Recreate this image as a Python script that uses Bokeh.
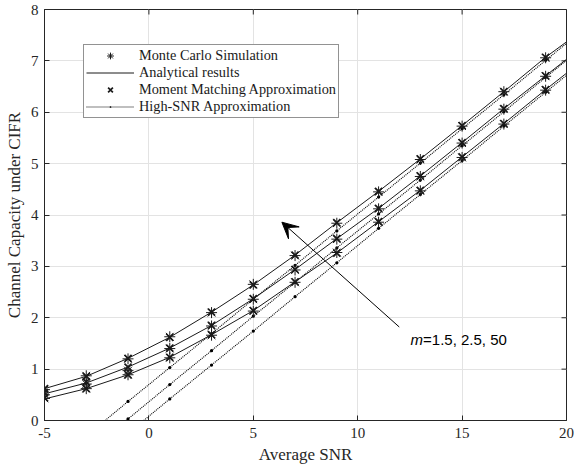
import math
from bokeh.plotting import figure
from bokeh.models import (Range1d, Legend, LegendItem, Arrow, VeeHead,
                          Label, FixedTicker)
from bokeh.embed import file_html
from bokeh.resources import INLINE

# ---------------- data ----------------
snr_pts = [-5, -3, -1, 1, 3, 5, 7, 9, 11, 13, 15, 17, 19]

# analytical curves (m = 50, 2.5, 1.5), line continues to SNR = 20
ana_m50 = [0.62, 0.86, 1.21, 1.62, 2.11, 2.64, 3.22, 3.85, 4.46, 5.09, 5.74, 6.40, 7.07]
ana_m25 = [0.52, 0.73, 1.04, 1.41, 1.85, 2.37, 2.94, 3.54, 4.13, 4.76, 5.41, 6.07, 6.71]
ana_m15 = [0.42, 0.62, 0.89, 1.23, 1.67, 2.14, 2.70, 3.26, 3.87, 4.48, 5.13, 5.78, 6.44]
ana_end_snr = 20
ana_end = [7.37, 7.03, 6.76]

# Monte Carlo simulation
mc_m50 = [0.60, 0.87, 1.20, 1.63, 2.10, 2.65, 3.21, 3.84, 4.45, 5.08, 5.73, 6.40, 7.06]
mc_m25 = [0.50, 0.71, 0.97, 1.40, 1.84, 2.36, 2.93, 3.53, 4.12, 4.75, 5.40, 6.06, 6.70]
mc_m15 = [0.43, 0.62, 0.89, 1.22, 1.66, 2.13, 2.69, 3.27, 3.86, 4.47, 5.12, 5.77, 6.43]

# Moment matching approximation
mm_m50 = [0.62, 0.86, 1.21, 1.62, 2.11, 2.64, 3.22, 3.85, 4.46, 5.09, 5.74, 6.40, 7.07]
mm_m25 = [0.54, 0.75, 1.04, 1.41, 1.85, 2.37, 2.94, 3.54, 4.13, 4.76, 5.41, 6.07, 6.71]
mm_m15 = [0.44, 0.62, 0.89, 1.23, 1.67, 2.14, 2.70, 3.26, 3.87, 4.48, 5.13, 5.78, 6.44]

# High-SNR approximation (straight lines starting at the zero crossing, ending at 20)
hs_x_m50 = [-2.1, -1, 1, 3, 5, 7, 9, 11, 13, 15, 17, 19, 20]
hs_y_m50 = [0.0, 0.37, 1.03, 1.69, 2.36, 3.02, 3.69, 4.35, 5.01, 5.68, 6.34, 7.01, 7.34]
hs_x_m25 = [-1.1, -1, 1, 3, 5, 7, 9, 11, 13, 15, 17, 19, 20]
hs_y_m25 = [0.0, 0.03, 0.70, 1.36, 2.03, 2.69, 3.36, 4.02, 4.68, 5.35, 6.01, 6.68, 7.01]
hs_x_m15 = [-0.25, 1, 3, 5, 7, 9, 11, 13, 15, 17, 19, 20]
hs_y_m15 = [0.0, 0.42, 1.08, 1.74, 2.41, 3.07, 3.74, 4.40, 5.06, 5.73, 6.39, 6.72]

x_ticks = [-5, 0, 5, 10, 15, 20]
y_ticks = [0, 1, 2, 3, 4, 5, 6, 7, 8]

legend_labels = ["Monte Carlo Simulation", "Analytical results",
                 "Moment Matching Approximation", "High-SNR Approximation"]
x_label = "Average SNR"
y_label = "Channel Capacity under CIFR"

# ---------------- figure ----------------
SERIF = "Liberation Serif"
INK = "#1a1a1a"
p = figure(width=574, height=472, output_backend="svg", toolbar_location=None,
           x_range=Range1d(x_ticks[0], x_ticks[-1]), y_range=Range1d(y_ticks[0], y_ticks[-1]),
           min_border_left=44, min_border_right=8, min_border_top=9, min_border_bottom=52)
p.background_fill_color = "white"
p.border_fill_color = "white"
p.outline_line_color = "#262626"
p.outline_line_width = 1
p.outline_line_alpha = 1

for ax in (p.xaxis[0], p.yaxis[0]):
    ax.major_tick_in = 5
    ax.major_tick_out = 0
    ax.minor_tick_in = 0
    ax.minor_tick_out = 0
    ax.axis_line_color = "#262626"
    ax.major_tick_line_color = "#262626"
    ax.major_label_text_font = SERIF
    ax.major_label_text_font_size = "15px"
    ax.major_label_text_color = "#262626"
    ax.axis_label_text_font = SERIF
    ax.axis_label_text_font_size = "17px"
    ax.axis_label_text_font_style = "normal"
    ax.axis_label_text_color = "#262626"

p.xaxis[0].ticker = FixedTicker(ticks=x_ticks)
p.yaxis[0].ticker = FixedTicker(ticks=y_ticks)
p.xaxis[0].major_label_overrides = {t: str(t) for t in x_ticks}
p.yaxis[0].major_label_overrides = {t: str(t) for t in y_ticks}
p.xaxis[0].axis_label = x_label
p.yaxis[0].axis_label = y_label
p.xaxis[0].major_label_standoff = 7
p.xaxis[0].axis_label_standoff = 4
p.yaxis[0].major_label_standoff = 6
p.yaxis[0].axis_label_standoff = 4

p.xgrid.ticker = FixedTicker(ticks=x_ticks)
p.ygrid.ticker = FixedTicker(ticks=y_ticks)
p.grid.grid_line_color = "#e3e3e3"
p.grid.grid_line_width = 1

# mirrored inward ticks on the top and right edges of the box (clipped to frame)
p.scatter(x_ticks, [y_ticks[-1]] * len(x_ticks), marker="dash", angle=math.pi / 2,
          size=10, line_color="#262626", line_width=1)
p.scatter([x_ticks[-1]] * len(y_ticks), y_ticks, marker="dash",
          size=10, line_color="#262626", line_width=1)

# ---------------- series ----------------
ana_sets = [ana_m50, ana_m25, ana_m15]
mc_sets = [mc_m50, mc_m25, mc_m15]
mm_sets = [mm_m50, mm_m25, mm_m15]
hs_sets = [(hs_x_m50, hs_y_m50), (hs_x_m25, hs_y_m25), (hs_x_m15, hs_y_m15)]

r_line = r_mc = r_mm = r_hs = r_hsdot = None
for i in range(3):
    hx, hy = hs_sets[i]
    rl = p.line(hx, hy, line_color="black", line_width=1.1, line_dash="1 1")
    rd = p.scatter(hx[1:-1], hy[1:-1], marker="dot", size=13,
                   fill_color="black", line_color="black")
    ra = p.line(snr_pts + [ana_end_snr], ana_sets[i] + [ana_end[i]],
                line_color=INK, line_width=1)
    rm = p.scatter(snr_pts, mc_sets[i], marker="asterisk", size=11,
                   line_color=INK, line_width=1)
    rx = p.scatter(snr_pts, mm_sets[i], marker="x", size=10,
                   line_color=INK, line_width=1.7)
    if i == 0:
        r_line, r_mc, r_mm, r_hs, r_hsdot = ra, rm, rx, rl, rd

legend = Legend(items=[
    LegendItem(label=legend_labels[0], renderers=[r_mc]),
    LegendItem(label=legend_labels[1], renderers=[r_line]),
    LegendItem(label=legend_labels[2], renderers=[r_mm]),
    LegendItem(label=legend_labels[3], renderers=[r_hs, r_hsdot]),
], location=(39, 302))
legend.label_text_font = SERIF
legend.label_text_font_size = "14.3px"
legend.label_text_color = INK
legend.glyph_width = 48
legend.glyph_height = 17
legend.label_height = 17
legend.spacing = 0
legend.padding = 2
legend.margin = 0
legend.label_standoff = 5
legend.border_line_color = "#262626"
legend.border_line_width = 1
legend.background_fill_color = "white"
legend.background_fill_alpha = 1
p.add_layout(legend)

# ---------------- annotation ----------------
arrow_start = (11.99, 1.82)
arrow_end = (6.37, 3.86)
p.add_layout(Arrow(end=VeeHead(size=16, fill_color="black", line_color="black"),
                   x_start=arrow_start[0], y_start=arrow_start[1],
                   x_end=arrow_end[0], y_end=arrow_end[1],
                   line_color="black", line_width=1))

ann_x, ann_y = 12.53, 1.58
p.add_layout(Label(x=ann_x, y=ann_y, text="m", text_font="Liberation Sans",
                   text_font_style="italic", text_font_size="15px",
                   text_baseline="middle", text_align="left", text_color="black"))
p.add_layout(Label(x=ann_x, y=ann_y, x_offset=12.5, text="=1.5, 2.5, 50",
                   text_font="Liberation Sans", text_font_size="15px",
                   text_baseline="middle", text_align="left", text_color="black"))

open("out.html", "w").write(file_html(p, INLINE))
